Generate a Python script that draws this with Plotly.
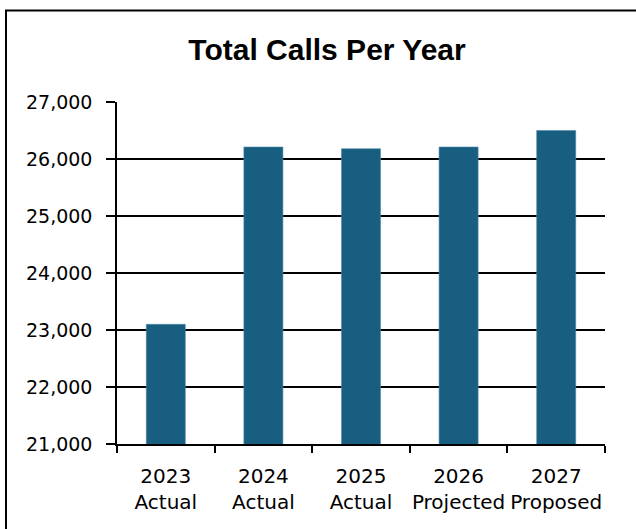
import plotly.graph_objects as go

categories = ["2023<br>Actual", "2024<br>Actual", "2025<br>Actual", "2026<br>Projected", "2027<br>Proposed"]
calls = [23100, 26210, 26180, 26210, 26500]
y_ticks = [21000, 22000, 23000, 24000, 25000, 26000, 27000]
y_tick_labels = ["21,000", "22,000", "23,000", "24,000", "25,000", "26,000", "27,000"]

W, H = 636, 529
L, R, T, B = 117, 31, 102, 85
pw, ph = W - L - R, H - T - B

def px_x(x):
    return (x - L) / pw

def px_y(y):
    return (H - B - y) / ph

fig = go.Figure(go.Bar(
    x=categories, y=calls,
    marker=dict(color="#175E81", line=dict(color="#4F88A6", width=0.6)),
    width=0.4,
))

fig.update_layout(
    width=W, height=H,
    margin=dict(l=L, r=R, t=T, b=B, autoexpand=False),
    paper_bgcolor="white", plot_bgcolor="white",
    font=dict(family="DejaVu Sans, sans-serif", color="black", size=19),
    showlegend=False,
    title=dict(text="<b>Total Calls Per Year</b>",
               font=dict(family="Liberation Sans, Arial, sans-serif", size=30, color="black"),
               x=px_x(327), xref="paper", xanchor="center",
               y=1 - 49 / H, yanchor="middle"),
    shapes=[dict(type="rect", xref="paper", yref="paper",
                 x0=px_x(6), x1=px_x(W + 40), y0=px_y(10.5), y1=px_y(H + 40),
                 line=dict(color="black", width=2), fillcolor="rgba(0,0,0,0)", layer="above")],
)

fig.update_yaxes(range=[21000, 27000], tickvals=y_ticks, ticktext=y_tick_labels,
                 showgrid=True, gridcolor="black", gridwidth=1.5,
                 showline=True, linecolor="black", linewidth=1.5,
                 ticks="outside", ticklen=9, tickcolor="black", tickwidth=1.5,
                 ticklabelstandoff=10, automargin=False,
                 zeroline=False, tickfont=dict(size=19))
fig.update_xaxes(showline=True, linecolor="black", linewidth=1.5,
                 ticks="outside", tickson="boundaries", ticklen=7, tickcolor="black", tickwidth=1.5,
                 ticklabelstandoff=13, tickangle=0, automargin=False,
                 showgrid=False, tickfont=dict(size=20))

fig.write_html("out.html",
               config={"displayModeBar": False},
               post_script="document.body.style.margin='0';document.body.style.overflow='hidden';")
